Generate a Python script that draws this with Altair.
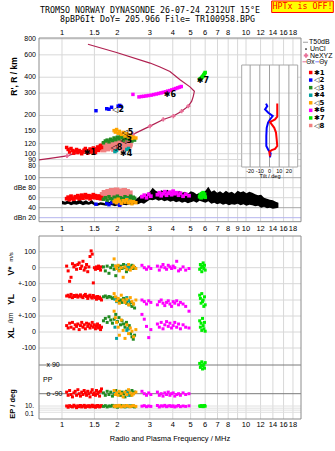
import altair as alt
import pandas as pd

# ---------------- axis / tick data ----------------
TOP_F = [1, 1.5, 2, 3, 4, 5, 6, 7, 8, 10, 12, 14, 16, 18]
TOP_L = ["1", "1.5", "2", "3", "4", "5", "6", "7", "8", "10", "12", "14", "16", "18"]
MID_F = [1, 1.5, 2, 3, 4, 5, 6, 7, 8, 9, 10, 12, 14, 16, 18]
MID_L = ["1", "1.5", "2", "3", "4", "5", "6", "7", "8", "9", "10", "12", "14", "16", "18"]
GRID_F = [1, 1.5, 2, 3, 4, 5, 6, 7, 8, 9, 10, 12, 14, 16, 18]
R_TICKS = [800, 600, 400, 300, 200, 150, 120, 100, 90, 80]
DB_TICKS = [100, 80, 60, 40, 20]
DB_LABS = ["100", "dBe 80", "60", "40", "dBn 20"]
TILT_TICKS = [-20, -10, 0, 10, 20]
EP_GRID = [10, 3, 1, 0.3]

# ---------------- electron density profile (NeXYZ) ----------------
PROF_F = [1.384, 1.98, 3.01, 3.41, 3.86, 4.38, 4.96, 5.24, 5.17, 5.07, 4.86,
          4.47, 4.03, 3.55, 3.01, 2.43, 1.99, 1.61, 1.30, 1.065, 0.861, 0.75]
PROF_R = [727, 626, 517, 481, 444, 382, 336, 310, 283, 259, 237,
          216, 198, 186, 165, 142, 126, 114, 105, 96.3, 92, 89.6]
NE_F = [1.065, 1.30, 1.61, 1.99, 2.43, 3.01, 3.55, 4.03, 4.47, 4.86]
NE_R = [96.3, 105, 114, 126, 142, 165, 186, 198, 216, 237]

# ---------------- echo traces ----------------
RED_F = [1.06, 1.08, 1.10, 1.12, 1.14, 1.16, 1.18, 1.20, 1.22, 1.24, 1.26, 1.28, 1.30, 1.32, 1.34,
         1.36, 1.38, 1.40, 1.42, 1.44, 1.46, 1.48, 1.50, 1.52, 1.54, 1.56, 1.58, 1.60, 1.62, 1.64]
RED_R = [112, 108, 103, 110, 106, 101, 105, 108, 102, 106, 104, 100, 103, 107, 110,
         104, 101, 106, 109, 103, 107, 111, 105, 102, 108, 113, 106, 110, 116, 112]
RED_DB = [58, 61, 56, 63, 59, 57, 62, 60, 64, 58, 61, 65, 59, 63, 66,
          60, 62, 64, 58, 63, 61, 66, 60, 64, 62, 59, 63, 61, 58, 60]
RED_V = [10, -20, -85, -60, 25, 5, 15, -10, 20, 30, -5, 10, 40, -15, 0,
         20, -25, 5, 70, 105, 85, -95, 0, -10, 5, -5, 10, 0, -15, 5]
RED_YL = [25, 30, 20, 35, 15, 28, 22, 30, 18, 25, 32, 20, 15, 28, 35,
          22, 10, 25, 30, 18, 12, 28, 20, 15, 5, 22, 10, 18, 8, 0]
RED_XL = [40, 25, 55, 30, 60, 20, 45, 35, 50, 15, 40, 60, 30, 45, 20,
          55, 35, 50, 25, 40, 60, 30, 45, 20, 35, 50, 25, 40, 15, 30]
RED_PP = [-80, -100, -70, -95, -110, -85, -75, -100, -65, -90, -105, -80, -95, -70, -85,
          -100, -75, -90, -110, -80, -65, -95, -85, -100, -70, -90, -80, -105, -75, -60]
RED_EP = [10, 5, 12, 8, 6, 15, 9, 4, 11, 7, 13, 6, 9, 14, 5,
          10, 8, 12, 6, 9, 15, 7, 11, 5, 8, 13, 10, 6, 9, 12]

BLU_F = [1.53, 1.75, 1.80, 1.86, 2.02, 2.06, 2.09]
BLU_R = [218, 226, 224, 232, 237, 240, 236]
BLU_DB = [47, 49, 46, 50, 48, 45, 49]

GRN_F = [1.68, 1.72, 1.76, 1.80, 1.84, 1.88, 1.92, 1.96, 2.00, 2.04, 2.08,
         2.12, 2.16, 2.20, 2.24, 2.28, 2.32, 2.36, 2.40, 2.44, 2.48]
GRN_R = [122, 126, 128, 124, 130, 127, 133, 129, 135, 131, 138,
         134, 128, 136, 132, 139, 130, 135, 126, 133, 128]
GRN_DB = [57, 60, 55, 62, 58, 56, 61, 59, 63, 57, 60, 55, 58, 62, 56, 60, 58, 63, 57, 61, 59]
GRN_V = [5, -20, 10, -35, 0, 15, -10, -50, 5, -15, 10, -5, 20, 0, -25, 10, -10, 5, 15, -5, 0]
GRN_YL = [20, 25, 15, 22, 18, 10, 15, 12, 5, -10, 0, -15, 10, 5, -20, -5, -30, -15, -40, -25, -50]
GRN_XL = [70, 85, 60, 95, 75, 55, 80, 110, 65, 90, 45, 70, 50, 30, 60, 20, 40, -10, -30, -45, -20]
GRN_PP = [-85, -100, -75, -95, -80, -105, -90, -70, -95, -85, -100,
          -80, -90, -110, -75, -95, -85, -100, -70, -90, -80]
GRN_EP = [8, 12, 6, 10, 9, 14, 7, 11, 5, 9, 13, 8, 10, 6, 12, 9, 7, 11, 8, 10, 6]

TEA_F = [1.94, 1.98, 2.25, 2.30]
TEA_R = [104, 106, 108, 110]
TEA_DB = [55, 52, 57, 54]
TEA_V = [10, -5, 15, 0]
TEA_YL = [5, -10, 15, -5]
TEA_XL = [30, -40, 10, 20]
TEA_PP = [-85, -95, -80, -100]
TEA_EP = [9, 11, 8, 10]

ORG_F = [1.92, 1.95, 1.98, 2.02, 2.05, 2.10, 2.15, 2.20, 2.25, 2.30, 2.35, 2.40, 2.45, 2.52]
ORG_R = [152, 148, 155, 145, 150, 142, 147, 138, 144, 136, 140, 132, 135, 133]
ORG_DB = [52, 55, 50, 57, 53, 49, 54, 51, 56, 50, 53, 48, 52, 50]
ORG_V = [55, 10, -5, 15, -20, 0, -60, 5, -10, 20, -15, 0, 10, -5]
ORG_YL = [40, 20, -5, 10, -20, 30, 0, -15, 5, -30, 15, -10, -25, 0]
ORG_XL = [130, 90, 60, 30, -20, 75, 10, -40, 45, -10, 25, 5, -30, 15]
ORG_PP = [-70, -95, -85, -100, -75, -90, -110, -80, -95, -65, -85, -100, -90, -80]
ORG_EP = [10, 7, 12, 9, 14, 6, 11, 8, 13, 9, 7, 10, 12, 8]

MAG_F = [2.43, 2.62, 2.70, 2.78, 2.86, 2.95, 3.05, 3.15, 3.25, 3.35, 3.45,
         3.55, 3.65, 3.75, 3.85, 3.95, 4.05, 4.15, 4.25, 4.35, 4.45]
MAG_R = [293, 280, 282, 283, 285, 287, 289, 292, 295, 298, 301,
         304, 307, 311, 314, 318, 322, 326, 330, 334, 338]
MAGL_F = [2.72, 2.80, 2.88, 2.96, 3.04, 3.30, 3.38, 3.46, 3.54, 3.62, 3.70,
          3.78, 3.86, 3.94, 4.02, 4.10, 4.20, 4.30, 4.40, 4.55, 4.70, 4.90]
MAGL_DB = [62, 65, 60, 67, 63, 66, 70, 64, 68, 72, 65, 69, 71, 66, 73, 68, 70, 65, 69, 63, 67, 64]
MAGL_V = [15, 0, -10, 5, -5, 10, -15, 5, 20, 0, -10, 15, 5, -5, 10, 0, 40, -20, -10, 5, -15, -5]
MAGL_YL = [0, -10, -25, -5, -15, -30, -10, 0, -20, -35, -15, -5, -25, -40, -10, -20, -5, -30, -15, -25, -40, -70]
MAGL_XL = [110, 80, 35, -35, 15, 50, 30, 60, 20, 45, 65, 35, 55, 25, 40, 60, 30, 50, 20, 45, 30, 25]
MAGL_PP = [-75, -90, -100, -85, -95, -80, -100, -90, -105, -85, -95,
           -80, -100, -90, -85, -105, -95, -90, -100, -85, -95, -90]
MAGL_EP = [9, 12, 7, 10, 8, 13, 6, 11, 9, 14, 7, 10, 12, 8, 11, 6, 9, 13, 7, 10, 8, 11]

LIM_F = [5.60, 5.65, 5.70, 5.75, 5.80, 5.85, 5.90, 5.95, 6.00]
LIM_R = [385, 388, 392, 398, 404, 410, 418, 428, 436]
LIM_DB = [62, 66, 60, 68, 64, 70, 63, 67, 61]
LIM_V = [-10, 20, 0, -25, 10, 30, -5, 15, -15]
LIM_YL = [30, 10, -20, 40, -10, 0, -40, 20, -30]
LIM_XL = [70, 30, 55, 10, 85, 40, 20, 60, 5]
LIM_PP = [100, 75, 90, 110, 65, 85, 95, 70, 105]
LIM_EP = [10, 8, 12, 9, 11, 7, 10, 13, 9]

SAL_F = [1.62, 1.66, 1.70, 1.74, 1.78, 1.82, 1.86, 1.90, 1.94, 1.98, 2.02, 2.06, 2.10, 2.14,
         2.18, 2.22, 2.26, 2.30, 2.34, 1.68, 1.76, 1.84, 1.92, 2.00, 2.08, 2.16, 2.24, 2.32]
SAL_R = [112, 115, 118, 113, 120, 116, 122, 118, 114, 121, 117, 124, 119, 115,
         121, 118, 123, 117, 120, 108, 110, 112, 109, 111, 113, 110, 114, 116]
SAL_DB = [62, 66, 70, 64, 72, 68, 74, 67, 71, 75, 69, 73, 66, 70,
          74, 68, 72, 65, 69, 60, 63, 61, 64, 62, 65, 60, 63, 61]

# black amplitude band (dBe)
BLK_F = [1.00, 1.04, 1.08, 1.12, 1.16, 1.20, 1.25, 1.30, 1.35, 1.40,
         1.45, 1.50, 1.56, 1.62, 1.68, 1.74, 1.80, 1.87, 1.94, 2.01,
         2.08, 2.16, 2.24, 2.32, 2.41, 2.50, 2.59, 2.69, 2.79, 2.89,
         3.00, 3.11, 3.23, 3.35, 3.47, 3.60, 3.74, 3.88, 4.02, 4.17,
         4.33, 4.49, 4.66, 4.83, 5.01, 5.20, 5.39, 5.59, 5.80, 6.02,
         6.24, 6.48, 6.72, 6.97, 7.23, 7.50, 7.78, 8.07, 8.37, 8.68,
         9.01, 9.34, 9.69, 10.05, 10.43, 10.82, 11.22, 11.64, 12.08, 12.53,
         13.00, 13.48, 13.99, 14.51, 15.00]
BLK_LO = [47, 46, 48, 45, 47, 46, 48, 45, 47, 46, 48, 45, 44, 46, 45, 44, 46, 45, 43, 45,
          44, 46, 45, 47, 46, 48, 47, 50, 48, 52, 56, 55, 57, 54, 56, 53, 55, 52, 54, 51,
          53, 50, 52, 49, 51, 53, 50, 54, 52, 50, 53, 48, 50, 47, 49, 46, 48, 45, 47, 46,
          48, 45, 47, 44, 46, 45, 43, 44, 40, 42, 39, 40, 38, 39, 40]
BLK_HI = [54, 52, 55, 51, 56, 53, 57, 52, 55, 51, 56, 50, 49, 51, 50, 48, 52, 50, 49, 51,
          48, 62, 52, 55, 54, 57, 60, 66, 62, 68, 72, 80, 74, 71, 75, 72, 76, 70, 73, 69,
          74, 70, 72, 68, 73, 71, 67, 70, 68, 74, 82, 72, 75, 70, 73, 69, 74, 70, 72, 68,
          74, 71, 73, 69, 72, 70, 67, 65, 66, 60, 58, 56, 55, 52, 50]

# tilt inset
TX_DEG = [8.0, 8.0, 5.7, 0.5, 2.3, 4.9, 6.7, 7.4, 8.0, 5.7, 2.3, -0.2, 0.5]
TX_R = [248, 195.6, 186, 177.6, 170, 160, 146.7, 130, 115, 109, 106.7, 103.5, 95.2]
TY_DEG = [-3.6, -2.3, -4.6, -1.2, 3.3, 0.5, -1.5, -2.9, -3.3, -3.3, -1.2, 1.2, 0.5]
TY_R = [248, 237, 223, 210, 198, 186, 175.5, 160, 138, 115, 107, 101, 93.5]

# trace labels
LAB_T = ["✱1", "◁2", "◁3", "✱4", "◁5", "✱6", "✱7", "◁8"]
LAB_F = [1.42, 2.02, 2.23, 2.23, 2.27, 3.86, 5.83, 1.98]
LAB_R = [102, 219, 125, 100, 145, 288, 371, 110]
LEG_COL = ["#ff0000", "#0000ff", "#228b22", "#00a0a0", "#ffa500", "#ff00ff", "#00ee00", "#f08080"]

# ---------------- scales / helpers ----------------
W, H = 262, 381
FONT = "Liberation Sans"
MONO = "DejaVu Sans Mono"
GRID = "#d8d8d8"
FRAME = "#8c8c8c"

FX = alt.Scale(type="log", domain=[0.75, 19.9], nice=False)
SR = alt.Scale(type="log", domain=[65.6, 814], range=[139, 0], nice=False)
SDB = alt.Scale(domain=[12, 101.4], range=[183.7, 139], nice=False, zero=False)
SV = alt.Scale(domain=[-100, 100], range=[245.7, 213.7], nice=False, zero=False)
SYL = alt.Scale(domain=[-100, 100], range=[278, 246], nice=False, zero=False)
SXL = alt.Scale(domain=[-100, 100], range=[310, 278], nice=False, zero=False)
SPP = alt.Scale(domain=[-90, 90], range=[355.7, 327], nice=False, zero=False)
SEP = alt.Scale(type="log", domain=[0.1, 10], range=[376.3, 368], nice=False)
STX = alt.Scale(domain=[-28.7, 29.1], range=[202.7, 258.7], nice=False, zero=False)

ONE = pd.DataFrame({"k": [0]})
L = []


def X(field="f", scale=FX):
    return alt.X(f"{field}:Q", scale=scale, axis=None)


def Y(field, scale):
    return alt.Y(f"{field}:Q", scale=scale, axis=None)


def vgrid(freqs, y0, y1, color=GRID, scale=FX):
    return alt.Chart(pd.DataFrame({"f": freqs})).mark_rule(color=color, strokeWidth=1).encode(
        x=X("f", scale), y=alt.value(y0), y2=alt.value(y1))


def hgrid(vals, scale, color=GRID, x0=0, x1=W):
    return alt.Chart(pd.DataFrame({"v": vals})).mark_rule(color=color, strokeWidth=1).encode(
        y=Y("v", scale), x=alt.value(x0), x2=alt.value(x1))


def box(x0, x1, y0, y1, stroke=FRAME, fill="#ffffff", fop=0.0):
    return alt.Chart(ONE).mark_rect(fill=fill, fillOpacity=fop, stroke=stroke, strokeWidth=1).encode(
        x=alt.value(x0), x2=alt.value(x1), y=alt.value(y0), y2=alt.value(y1))


def sq(f, v, col, ys, size=10):
    df = pd.DataFrame({"f": f, "v": v})
    return alt.Chart(df).mark_square(size=size, color=col, opacity=1).encode(x=X(), y=Y("v", ys))


def label(text, x, y, size=8, align="center", color="black", weight="normal", font=FONT, angle=0):
    return alt.Chart(ONE).mark_text(text=text, fontSize=size, align=align, color=color,
                                    fontWeight=weight, font=font, angle=angle,
                                    baseline="middle").encode(x=alt.value(x), y=alt.value(y))


def ticklabels(vals, labs, scale, x, align="right", size=7, field_is_x=False):
    df = pd.DataFrame({"v": vals, "lab": labs})
    return alt.Chart(df).mark_text(fontSize=size, font=FONT, align=align, baseline="middle").encode(
        x=alt.value(x), y=Y("v", scale), text="lab:N")


# ---------------- grids & frames ----------------
L.append(vgrid(GRID_F, 0, 183.7))
L.append(vgrid(GRID_F, 198, 381))
L.append(hgrid(R_TICKS, SR))
L.append(hgrid([80, 60], SDB))
L.append(hgrid([100, 40], SDB, color="#a8a8a8"))
L.append(hgrid([20], SDB, color="#b4b4ee"))
L.append(hgrid([100, 0, -100], SV))
L.append(hgrid([0, -100], SYL))
L.append(hgrid([0, -100], SXL))
L.append(hgrid([90, -90], SPP, color="#7a7a7a"))
L.append(hgrid(EP_GRID, SEP, color="#e0e0e0"))

# ---------------- tilt inset ----------------
L.append(box(202.7, 258.7, 27, 129, stroke="#a8a8a8", fill="#ffffff", fop=1.0))
L.append(hgrid([300, 200, 150, 120, 100], SR, x0=202.7, x1=258.7))
L.append(vgrid(TILT_TICKS, 27, 129, color="#a0a0a0", scale=STX))
L.append(alt.Chart(pd.DataFrame({"t": TY_DEG, "r": TY_R, "i": range(len(TY_R))})).mark_line(
    color="#0000ff", strokeWidth=2).encode(x=X("t", STX), y=Y("r", SR), order="i:Q"))
L.append(alt.Chart(pd.DataFrame({"t": TX_DEG, "r": TX_R, "i": range(len(TX_R))})).mark_line(
    color="#ff0000", strokeWidth=2).encode(x=X("t", STX), y=Y("r", SR), order="i:Q"))
L.append(alt.Chart(pd.DataFrame({"t": TILT_TICKS, "lab": [str(t) for t in TILT_TICKS]})).mark_text(
    fontSize=5.5, font=FONT, baseline="middle").encode(x=X("t", STX), y=alt.value(132.5), text="lab:N"))
L.append(label("Tilt / deg", 231, 137.5, size=5.5))

# frames
L.append(box(0, W, 0, 183.7))
L.append(box(0, W, 198, 381))

# ---------------- profile ----------------
L.append(alt.Chart(pd.DataFrame({"f": PROF_F, "r": PROF_R, "i": range(len(PROF_R))})).mark_line(
    color="#b02050", strokeWidth=1.2).encode(x=X(), y=Y("r", SR), order="i:Q"))
L.append(alt.Chart(pd.DataFrame({"f": NE_F, "r": NE_R})).mark_point(
    shape="cross", size=18, color="#e87098", filled=True, opacity=1).encode(x=X(), y=Y("r", SR)))

# ---------------- main ionogram echoes ----------------
L.append(sq(SAL_F, SAL_R, "#f08080", SR, size=34))
L.append(sq(RED_F, RED_R, "#ff0000", SR, size=12))
L.append(sq(GRN_F, GRN_R, "#228b22", SR, size=12))
L.append(sq(ORG_F, ORG_R, "#ffa500", SR, size=12))
L.append(sq(TEA_F, TEA_R, "#00a0a0", SR, size=12))
L.append(sq(BLU_F, BLU_R, "#0000ff", SR, size=12))
L.append(sq(MAG_F, MAG_R, "#ff00ff", SR, size=12))
L.append(sq(LIM_F, LIM_R, "#00ee00", SR, size=12))
L.append(alt.Chart(pd.DataFrame({"f": LAB_F, "r": LAB_R, "lab": LAB_T})).mark_text(
    fontSize=8, font="DejaVu Sans", fontWeight="bold", color="black", baseline="middle").encode(
    x=X(), y=Y("r", SR), text="lab:N"))

# ---------------- dBe panel ----------------
L.append(alt.Chart(pd.DataFrame({"f": BLK_F, "lo": BLK_LO, "hi": BLK_HI})).mark_area(
    color="black", opacity=1).encode(x=X(), y=Y("hi", SDB), y2="lo:Q"))
L.append(sq(BLU_F, BLU_DB, "#0000ff", SDB, size=12))
L.append(sq(SAL_F, SAL_DB, "#f08080", SDB, size=30))
L.append(sq(RED_F, RED_DB, "#ff0000", SDB, size=14))
L.append(sq(GRN_F, GRN_DB, "#228b22", SDB, size=12))
L.append(sq(TEA_F, TEA_DB, "#00a0a0", SDB, size=12))
L.append(sq(ORG_F, ORG_DB, "#ffa500", SDB, size=12))
L.append(sq(MAGL_F, MAGL_DB, "#ff00ff", SDB, size=14))
L.append(sq(LIM_F, LIM_DB, "#00ee00", SDB, size=14))

# ---------------- lower panel ----------------
for ys, sets in [
    (SV, [(RED_F, RED_V, "#ff0000"), (GRN_F, GRN_V, "#228b22"), (TEA_F, TEA_V, "#00a0a0"),
          (ORG_F, ORG_V, "#ffa500"), (MAGL_F, MAGL_V, "#ff00ff"), (LIM_F, LIM_V, "#00ee00")]),
    (SYL, [(RED_F, RED_YL, "#ff0000"), (GRN_F, GRN_YL, "#228b22"), (TEA_F, TEA_YL, "#00a0a0"),
           (ORG_F, ORG_YL, "#ffa500"), (MAGL_F, MAGL_YL, "#ff00ff"), (LIM_F, LIM_YL, "#00ee00")]),
    (SXL, [(RED_F, RED_XL, "#ff0000"), (GRN_F, GRN_XL, "#228b22"), (TEA_F, TEA_XL, "#00a0a0"),
           (ORG_F, ORG_XL, "#ffa500"), (MAGL_F, MAGL_XL, "#ff00ff"), (LIM_F, LIM_XL, "#00ee00")]),
    (SPP, [(RED_F, RED_PP, "#ff0000"), (GRN_F, GRN_PP, "#228b22"), (TEA_F, TEA_PP, "#00a0a0"),
           (ORG_F, ORG_PP, "#ffa500"), (MAGL_F, MAGL_PP, "#ff00ff"), (LIM_F, LIM_PP, "#00ee00")]),
    (SEP, [(RED_F, RED_EP, "#ff0000"), (GRN_F, GRN_EP, "#228b22"), (TEA_F, TEA_EP, "#00a0a0"),
           (ORG_F, ORG_EP, "#ffa500"), (MAGL_F, MAGL_EP, "#ff00ff"), (LIM_F, LIM_EP, "#00ee00")]),
]:
    for f, v, c in sets:
        L.append(sq(f, v, c, ys, size=9))

# ---------------- tick labels ----------------
for yv, fr, lb in [(-5, TOP_F, TOP_L), (191, MID_F, MID_L), (387.3, TOP_F, TOP_L)]:
    L.append(alt.Chart(pd.DataFrame({"f": fr, "lab": lb})).mark_text(
        fontSize=7.5, font=FONT, baseline="middle").encode(x=X(), y=alt.value(yv), text="lab:N"))
L.append(ticklabels(R_TICKS, [str(r) for r in R_TICKS], SR, -3))
L.append(ticklabels(DB_TICKS, DB_LABS, SDB, -3))
L.append(ticklabels([100, 0, -100], ["100", "0", "+-100"], SV, -3))
L.append(ticklabels([0, -100], ["0", "+-100"], SYL, -3))
L.append(ticklabels([0, -100], ["0", "-100"], SXL, -3))
L.append(ticklabels([90, -90], ["x 90", "o -90"], SPP, 7.5, align="left"))
L.append(ticklabels([10, 0.1], ["10.", "0.1"], SEP, -5, size=6.5))
L.append(label("PP", 4, 342, size=7, align="left"))

# axis titles
L.append(label("R', R / km", -25.5, 38.5, size=8.5, weight="bold", angle=270))
L.append(label("V*", -28.5, 233, size=8.5, weight="bold", angle=270))
L.append(label("m/s", -28.5, 219, size=6, angle=270))
L.append(label("YL", -28.5, 261.5, size=8.5, weight="bold", angle=270))
L.append(label("/km", -28.5, 280, size=6.5, angle=270))
L.append(label("XL", -28.5, 295, size=8.5, weight="bold", angle=270))
L.append(label("EP / deg", -26, 366, size=7.5, weight="bold", angle=270))
L.append(label("Radio and Plasma Frequency / MHz", 131, 401, size=7.5))

# header
L.append(label("TROMSO NORWAY   DYNASONDE 26-07-24 2312UT 15°E", 111, -26.8, size=8.3, font=MONO))
L.append(label("8pBP6It DoY= 205.966 File= TR100958.BPG", 118.5, -17.6, size=8.3, font=MONO))
L.append(box(232.7, 294.3, -37, -25.5, stroke="#ff0000", fill="#ffff00", fop=1.0))
L.append(label("HPTx is OFF!", 263.5, -31.2, size=8.3, font=MONO, color="#ff0000"))

# ---------------- legend ----------------
L.append(alt.Chart(ONE).mark_rule(color="#b0b0b0", strokeWidth=1.2).encode(
    x=alt.value(264), x2=alt.value(269), y=alt.value(4.3)))
L.append(label("T50dB", 270, 4.3, size=7, align="left"))
L.append(alt.Chart(ONE).mark_point(shape="circle", size=3, filled=True, color="black", opacity=1).encode(
    x=alt.value(267), y=alt.value(11)))
L.append(label("UnCl", 271, 11, size=7, align="left"))
L.append(alt.Chart(ONE).mark_point(shape="cross", size=20, filled=True, color="#e87098", opacity=1).encode(
    x=alt.value(267), y=alt.value(17.5)))
L.append(label("NeXYZ", 271, 17.5, size=7, align="left"))
L.append(alt.Chart(ONE).mark_rule(color="#e87098", strokeWidth=1).encode(
    x=alt.value(263.5), x2=alt.value(267), y=alt.value(23.8)))
L.append(label("Θx", 267.3, 23.8, size=6.5, align="left"))
L.append(alt.Chart(ONE).mark_rule(color="#8080ff", strokeWidth=1).encode(
    x=alt.value(276.3), x2=alt.value(280), y=alt.value(23.8)))
L.append(label("Θy", 280.3, 23.8, size=6.5, align="left"))

LEG = pd.DataFrame({"i": list(range(8)), "lab": LAB_T, "col": LEG_COL})
LEGY = alt.Scale(domain=[0, 7], range=[34.5, 87.5], nice=False, zero=False)
L.append(alt.Chart(LEG).mark_square(size=12, opacity=1).encode(
    x=alt.value(271.7), y=alt.Y("i:Q", scale=LEGY, axis=None), color=alt.Color("col:N", scale=None)))
L.append(alt.Chart(LEG).mark_text(fontSize=7, font="DejaVu Sans", fontWeight="bold", align="left",
                                  baseline="middle").encode(
    x=alt.value(275), y=alt.Y("i:Q", scale=LEGY, axis=None), text="lab:N"))

chart = alt.layer(*L).resolve_scale(x="independent", y="independent").properties(
    width=W, height=H,
    padding={"left": 39, "top": 38, "right": 34, "bottom": 32},
    autosize=alt.AutoSizeParams(type="none"),
    background="white",
).configure_view(stroke=None)

chart.save("out.html", embed_options={"renderer": "svg", "actions": False})
